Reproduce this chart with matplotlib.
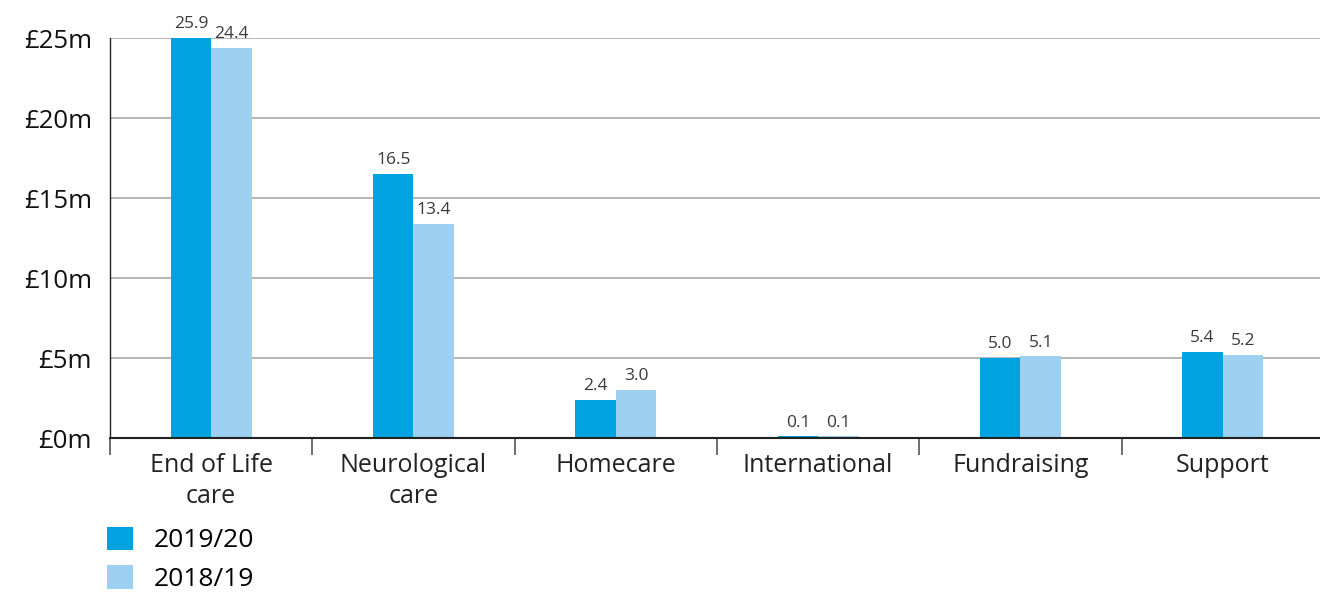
import matplotlib
matplotlib.use("Agg")
import matplotlib.pyplot as plt
import numpy as np
from matplotlib.patches import Patch

categories = ["End of Life\ncare", "Neurological\ncare", "Homecare", "International", "Fundraising", "Support"]
series_labels = ["2019/20", "2018/19"]
values_2019 = [25.9, 16.5, 2.4, 0.1, 5.0, 5.4]
values_2018 = [24.4, 13.4, 3.0, 0.1, 5.1, 5.2]
yticks = [0, 5, 10, 15, 20, 25]
ytick_labels = ["£0m", "£5m", "£10m", "£15m", "£20m", "£25m"]

c_dark = "#00A3E0"
c_light = "#9DD0F1"

plt.rcParams['font.family'] = ['Open Sans', 'DejaVu Sans']

fig = plt.figure(figsize=(13.2, 5.95), dpi=100)
ax = fig.add_axes([110/1320, 157/595, 1214/1320, 400/595])

x = np.arange(len(categories))
w = 0.2
ymax = 25
ax.bar(x - w/2, values_2019, width=w, color=c_dark, zorder=3)
ax.bar(x + w/2, values_2018, width=w, color=c_light, zorder=3)

for xi, v in zip(x - w/2, values_2019):
    ax.annotate(f"{v:.1f}", (xi, min(v, ymax)), xytext=(0, 4), textcoords="offset points",
                ha="center", va="bottom", fontsize=12.5, color="#3a3a3a", annotation_clip=False)
for xi, v in zip(x + w/2, values_2018):
    ax.annotate(f"{v:.1f}", (xi, min(v, ymax)), xytext=(0, 4), textcoords="offset points",
                ha="center", va="bottom", fontsize=12.5, color="#3a3a3a", annotation_clip=False)

ax.set_xlim(-0.5, len(categories) - 0.5)
ax.set_ylim(0, ymax)
ax.set_yticks(yticks)
ax.set_yticklabels(ytick_labels, fontsize=18.5, color="#111111")
ax.tick_params(axis="y", length=0, pad=13)
ax.yaxis.grid(True, color="#a0a0a0", linewidth=1.1, zorder=0)
ax.set_axisbelow(True)

ax.set_xticks(np.arange(len(categories) + 1) - 0.5)
ax.set_xticklabels([])
ax.tick_params(axis="x", which="major", length=12, width=1.2, color="#555555", direction="out")
ax.set_xticks(x, minor=True)
ax.set_xticklabels(categories, minor=True, fontsize=18, color="#222222", linespacing=1.3)
ax.tick_params(axis="x", which="minor", length=0, pad=11)

for s in ["top", "right"]:
    ax.spines[s].set_visible(False)
ax.spines["bottom"].set_color("#222222")
ax.spines["bottom"].set_linewidth(1.5)
ax.spines["bottom"].set_zorder(4)
ax.spines["left"].set_color("#222222")
ax.spines["left"].set_linewidth(1.0)

handles = [Patch(facecolor=c_dark), Patch(facecolor=c_light)]
fig.legend(handles, series_labels, loc="upper left", bbox_to_anchor=(96/1320, 1 - 516/595),
           frameon=False, fontsize=19, handlelength=1.0, handleheight=1.0,
           handletextpad=0.8, labelspacing=0.45, borderaxespad=0)

fig.savefig("out.png", dpi=100)
